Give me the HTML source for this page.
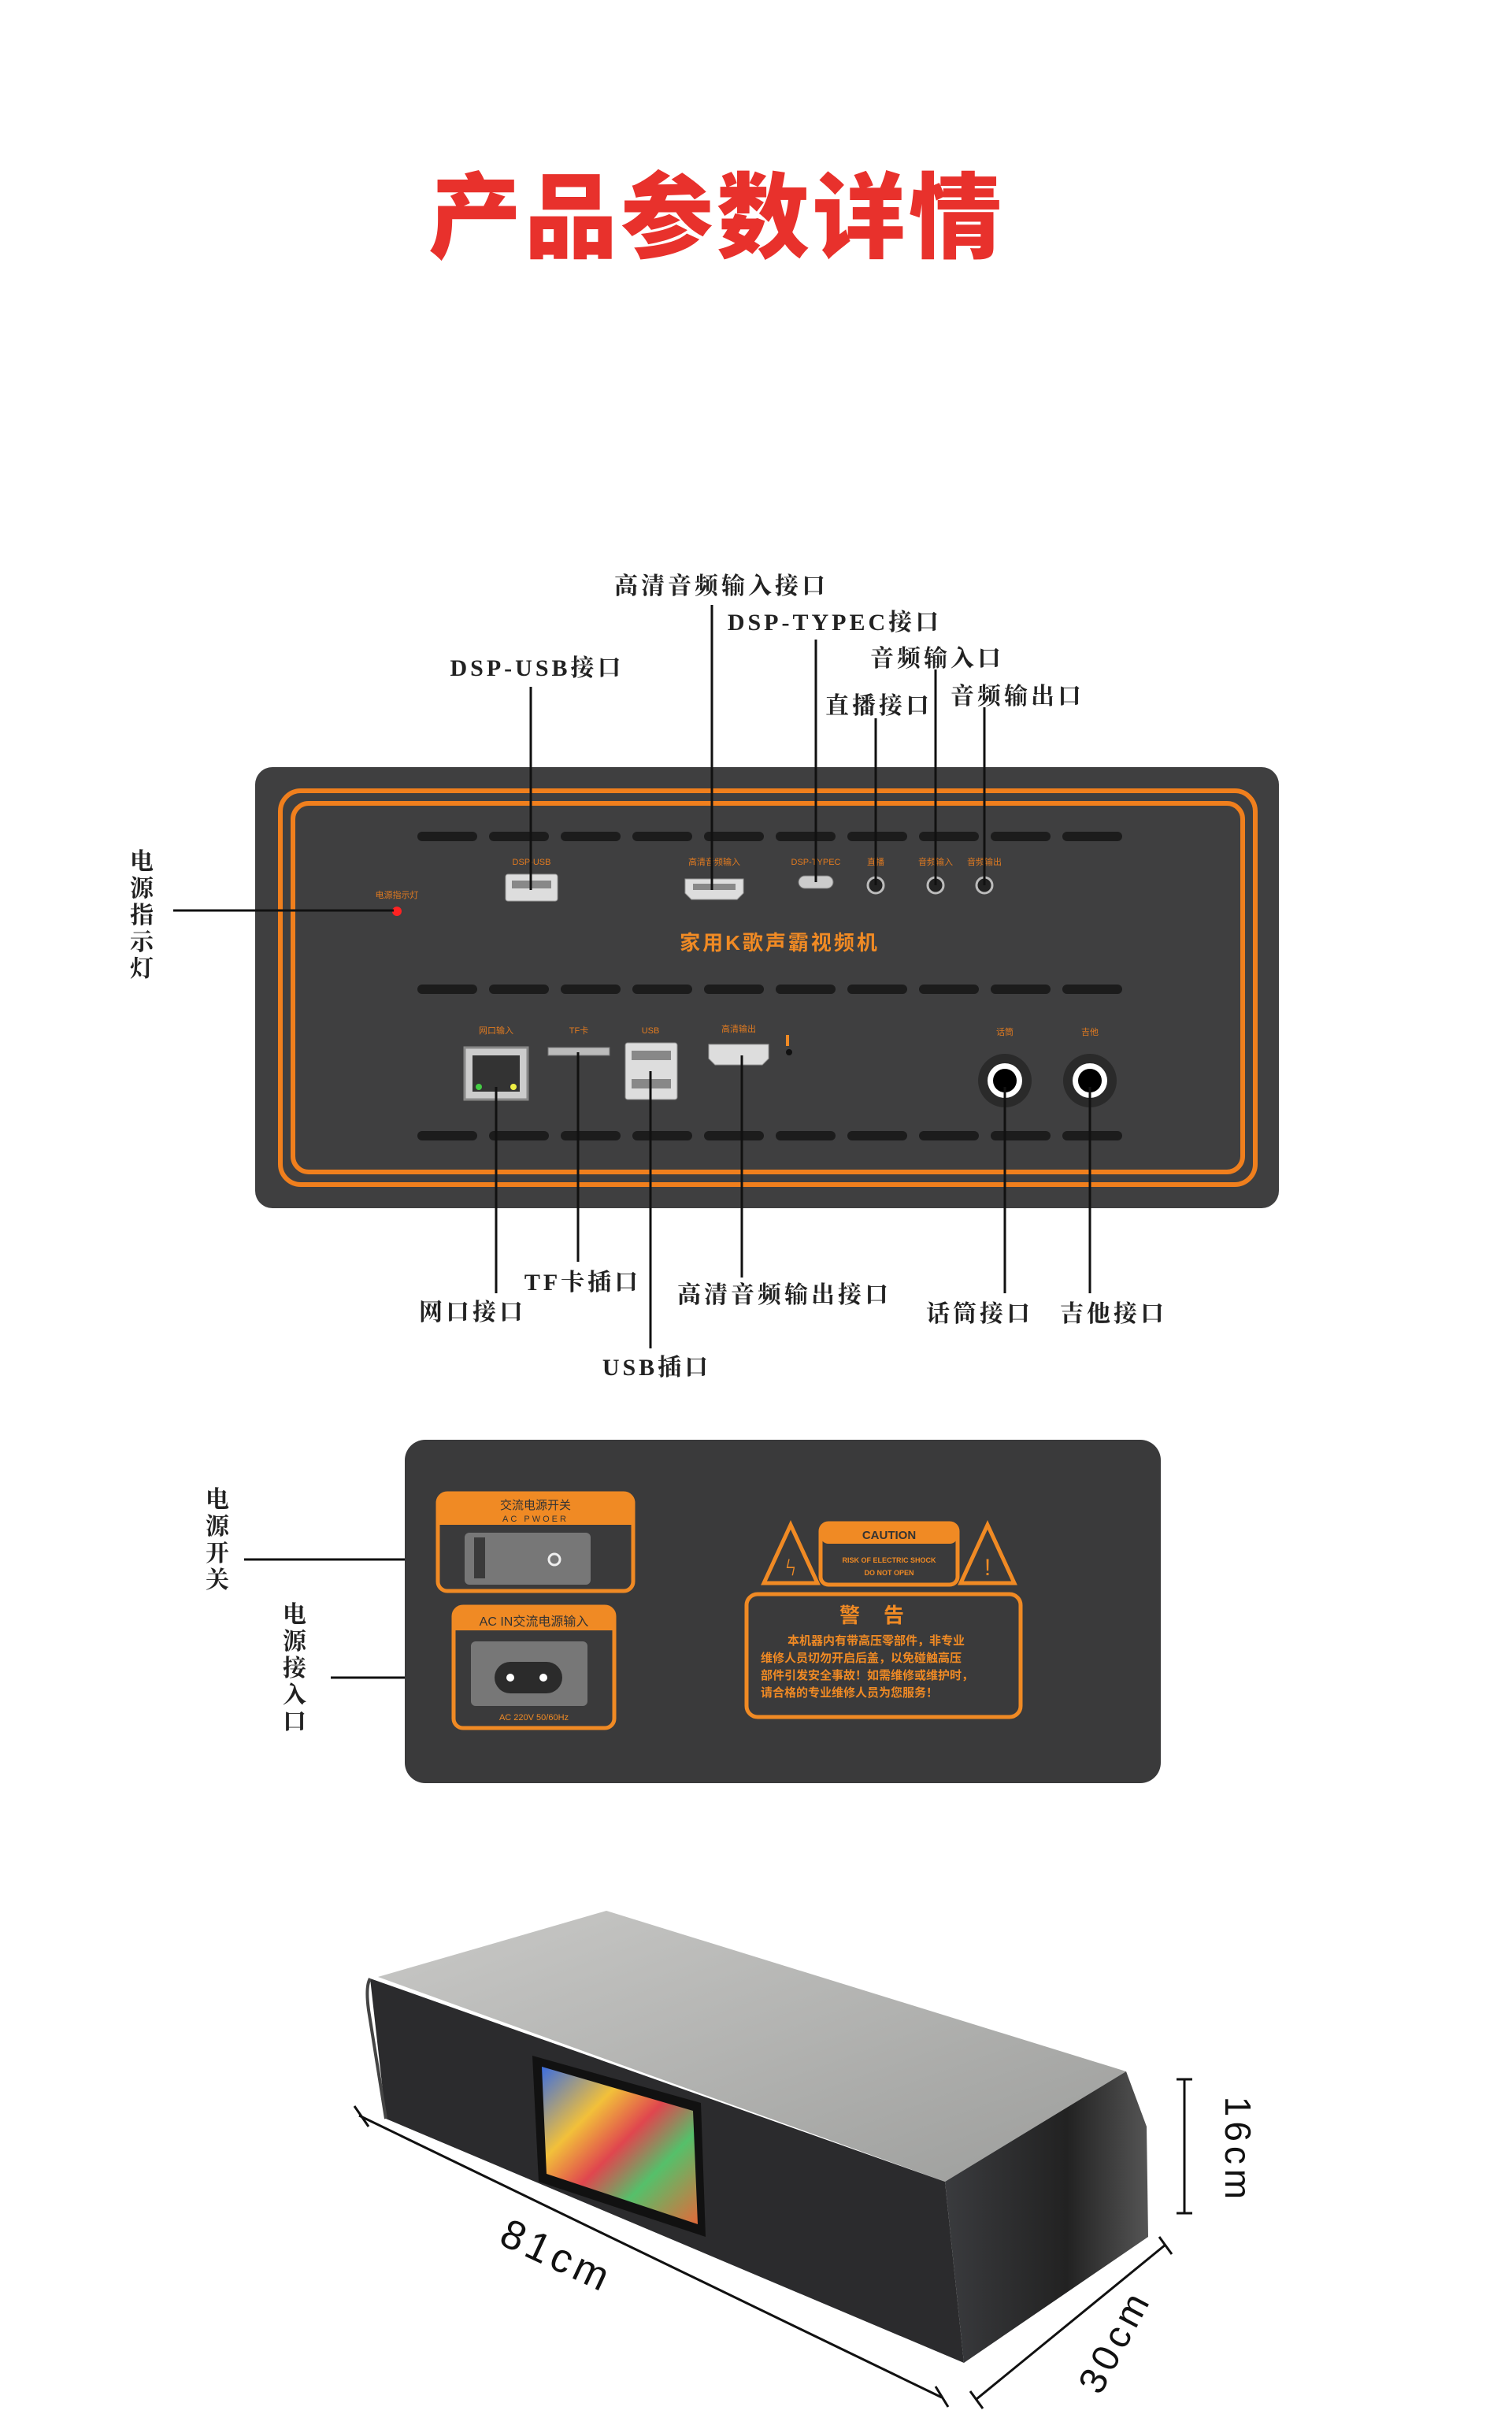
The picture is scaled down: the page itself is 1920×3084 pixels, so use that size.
<!DOCTYPE html>
<html><head><meta charset="utf-8"><style>
html,body{margin:0;padding:0;background:#fff}
svg{display:block}
.lb{font-family:"Liberation Serif","Noto Serif CJK SC",serif;font-weight:bold;font-size:30px;fill:#222;letter-spacing:4px}
.sm{font-family:"Liberation Sans","Noto Sans CJK SC",sans-serif;font-size:11px;fill:#e07a20}
.or{font-family:"Liberation Sans","Noto Sans CJK SC",sans-serif;fill:#f08a24;font-weight:bold}
</style></head><body>
<svg width="1920" height="3084" viewBox="0 0 1920 3084" xmlns="http://www.w3.org/2000/svg">
<defs>
<linearGradient id="top" x1="0" y1="0" x2="1" y2="1"><stop offset="0" stop-color="#c9c9c7"/><stop offset="1" stop-color="#9c9d9b"/></linearGradient>
<linearGradient id="side" x1="0" y1="0" x2="1" y2="0"><stop offset="0" stop-color="#3a3b3e"/><stop offset="0.6" stop-color="#222"/><stop offset="1" stop-color="#555"/></linearGradient>
<linearGradient id="scr" x1="0" y1="0" x2="1" y2="1"><stop offset="0" stop-color="#3b6de0"/><stop offset="0.3" stop-color="#f2c03a"/><stop offset="0.5" stop-color="#e0464e"/><stop offset="0.7" stop-color="#55c06a"/><stop offset="1" stop-color="#e26a3a"/></linearGradient>
</defs>
<text x="910" y="318" text-anchor="middle" font-family="'Liberation Sans','Noto Sans CJK SC',sans-serif" font-weight="900" font-size="118" fill="#e8312c" letter-spacing="4">产品参数详情</text>

<!-- Panel 1 -->
<rect x="324" y="974" width="1300" height="560" rx="22" fill="#3f3f40"/>
<rect x="356" y="1004" width="1238" height="500" rx="26" fill="none" stroke="#f07f1d" stroke-width="6"/>
<rect x="372" y="1020" width="1206" height="468" rx="20" fill="none" stroke="#f07f1d" stroke-width="6"/>
<g fill="#1c1c1c">
<g id="row"><rect x="530" y="1056" width="76" height="12" rx="6"/><rect x="621" y="1056" width="76" height="12" rx="6"/><rect x="712" y="1056" width="76" height="12" rx="6"/><rect x="803" y="1056" width="76" height="12" rx="6"/><rect x="894" y="1056" width="76" height="12" rx="6"/><rect x="985" y="1056" width="76" height="12" rx="6"/><rect x="1076" y="1056" width="76" height="12" rx="6"/><rect x="1167" y="1056" width="76" height="12" rx="6"/><rect x="1258" y="1056" width="76" height="12" rx="6"/><rect x="1349" y="1056" width="76" height="12" rx="6"/></g>
<use href="#row" y="194"/><use href="#row" y="380"/>
</g>
<text class="sm" x="675" y="1098" text-anchor="middle">DSP-USB</text>
<rect x="642" y="1110" width="66" height="34" rx="3" fill="#ddd" stroke="#999"/><rect x="650" y="1118" width="50" height="10" fill="#888"/>
<text class="sm" x="504" y="1140" text-anchor="middle">电源指示灯</text>
<circle cx="504" cy="1157" r="6" fill="#f22"/>
<text class="sm" x="907" y="1098" text-anchor="middle">高清音频输入</text>
<path d="M870 1116h74v18l-8 8h-58l-8-8z" fill="#ddd" stroke="#999"/><rect x="880" y="1122" width="54" height="8" fill="#888"/>
<text class="sm" x="1036" y="1098" text-anchor="middle">DSP-TYPEC</text>
<rect x="1014" y="1112" width="44" height="16" rx="8" fill="#ccc" stroke="#777"/>
<text class="sm" x="1112" y="1098" text-anchor="middle">直播</text>
<text class="sm" x="1188" y="1098" text-anchor="middle">音频输入</text>
<text class="sm" x="1250" y="1098" text-anchor="middle">音频输出</text>
<g fill="#222" stroke="#bbb" stroke-width="3"><circle cx="1112" cy="1124" r="10"/><circle cx="1188" cy="1124" r="10"/><circle cx="1250" cy="1124" r="10"/></g>
<text class="or" x="990" y="1206" text-anchor="middle" font-size="26" font-weight="normal" letter-spacing="3">家用K歌声霸视频机</text>
<text class="sm" x="630" y="1312" text-anchor="middle">网口输入</text>
<rect x="590" y="1330" width="80" height="66" fill="#ccc" stroke="#888" stroke-width="3"/><rect x="600" y="1340" width="60" height="46" fill="#333"/><circle cx="608" cy="1380" r="4" fill="#4c4"/><circle cx="652" cy="1380" r="4" fill="#ee4"/>
<text class="sm" x="735" y="1312" text-anchor="middle">TF卡</text>
<rect x="696" y="1330" width="78" height="10" fill="#bbb" stroke="#777"/>
<text class="sm" x="826" y="1312" text-anchor="middle">USB</text>
<rect x="794" y="1324" width="66" height="72" rx="3" fill="#ddd" stroke="#888"/><rect x="802" y="1334" width="50" height="12" fill="#888"/><rect x="802" y="1370" width="50" height="12" fill="#888"/>
<text class="sm" x="938" y="1310" text-anchor="middle">高清输出</text>
<path d="M900 1326h76v18l-8 8h-60l-8-8z" fill="#ddd" stroke="#999"/>
<rect x="998" y="1314" width="4" height="14" fill="#f08a24"/><circle cx="1002" cy="1336" r="4" fill="#111"/>
<text class="sm" x="1276" y="1314" text-anchor="middle">话筒</text>
<text class="sm" x="1384" y="1314" text-anchor="middle">吉他</text>
<g><circle cx="1276" cy="1372" r="34" fill="#2a2a2a"/><circle cx="1276" cy="1372" r="22" fill="#fff"/><circle cx="1276" cy="1372" r="15" fill="#000"/>
<circle cx="1384" cy="1372" r="34" fill="#2a2a2a"/><circle cx="1384" cy="1372" r="22" fill="#fff"/><circle cx="1384" cy="1372" r="15" fill="#000"/></g>

<!-- leader lines -->
<g stroke="#111" stroke-width="3" fill="none">
<line x1="674" y1="872" x2="674" y2="1130"/><line x1="904" y1="768" x2="904" y2="1130"/><line x1="1036" y1="812" x2="1036" y2="1120"/>
<line x1="1112" y1="912" x2="1112" y2="1124"/><line x1="1188" y1="850" x2="1188" y2="1124"/><line x1="1250" y1="898" x2="1250" y2="1124"/>
<line x1="220" y1="1156" x2="500" y2="1156"/>
<line x1="630" y1="1380" x2="630" y2="1642"/><line x1="734" y1="1336" x2="734" y2="1602"/><line x1="826" y1="1360" x2="826" y2="1712"/>
<line x1="942" y1="1340" x2="942" y2="1622"/><line x1="1276" y1="1380" x2="1276" y2="1642"/><line x1="1384" y1="1380" x2="1384" y2="1642"/>
<line x1="310" y1="1980" x2="660" y2="1980"/><line x1="420" y1="2130" x2="640" y2="2130"/>
</g>
<text class="lb" x="916" y="754" text-anchor="middle">高清音频输入接口</text>
<text class="lb" x="1060" y="800" text-anchor="middle">DSP-TYPEC接口</text>
<text class="lb" x="682" y="858" text-anchor="middle">DSP-USB接口</text>
<text class="lb" x="1190" y="846" text-anchor="middle">音频输入口</text>
<text class="lb" x="1116" y="906" text-anchor="middle">直播接口</text>
<text class="lb" x="1292" y="894" text-anchor="middle">音频输出口</text>
<text class="lb" x="182" y="1104" text-anchor="middle">电</text><text class="lb" x="182" y="1138" text-anchor="middle">源</text><text class="lb" x="182" y="1172" text-anchor="middle">指</text><text class="lb" x="182" y="1206" text-anchor="middle">示</text><text class="lb" x="182" y="1240" text-anchor="middle">灯</text>
<text class="lb" x="600" y="1676" text-anchor="middle">网口接口</text>
<text class="lb" x="740" y="1638" text-anchor="middle">TF卡插口</text>
<text class="lb" x="834" y="1746" text-anchor="middle">USB插口</text>
<text class="lb" x="996" y="1654" text-anchor="middle">高清音频输出接口</text>
<text class="lb" x="1244" y="1678" text-anchor="middle">话筒接口</text>
<text class="lb" x="1414" y="1678" text-anchor="middle">吉他接口</text>
<text class="lb" x="278" y="1914" text-anchor="middle">电</text><text class="lb" x="278" y="1948" text-anchor="middle">源</text><text class="lb" x="278" y="1982" text-anchor="middle">开</text><text class="lb" x="278" y="2016" text-anchor="middle">关</text>
<text class="lb" x="376" y="2060" text-anchor="middle">电</text><text class="lb" x="376" y="2094" text-anchor="middle">源</text><text class="lb" x="376" y="2128" text-anchor="middle">接</text><text class="lb" x="376" y="2162" text-anchor="middle">入</text><text class="lb" x="376" y="2196" text-anchor="middle">口</text>

<!-- Panel 2 -->
<rect x="514" y="1828" width="960" height="436" rx="26" fill="#3a3a3b"/>
<rect x="556" y="1896" width="248" height="124" rx="12" fill="none" stroke="#f08a24" stroke-width="5"/>
<path d="M556 1908a12 12 0 0 1 12-12h224a12 12 0 0 1 12 12v28h-248z" fill="#f08a24"/>
<text x="680" y="1916" text-anchor="middle" font-size="15" fill="#333" font-family="'Noto Sans CJK SC',sans-serif">交流电源开关</text>
<text x="680" y="1932" text-anchor="middle" font-size="11" fill="#333" font-family="'Liberation Sans',sans-serif" letter-spacing="3">AC PWOER</text>
<rect x="590" y="1946" width="160" height="66" rx="6" fill="#777"/><rect x="602" y="1952" width="14" height="52" fill="#3a3a3a"/><circle cx="704" cy="1980" r="7" fill="none" stroke="#eee" stroke-width="3"/>
<rect x="576" y="2040" width="204" height="154" rx="12" fill="none" stroke="#f08a24" stroke-width="5"/>
<path d="M576 2052a12 12 0 0 1 12-12h180a12 12 0 0 1 12 12v18h-204z" fill="#f08a24"/>
<text x="678" y="2064" text-anchor="middle" font-size="16" fill="#333" font-family="'Liberation Sans','Noto Sans CJK SC',sans-serif">AC IN交流电源输入</text>
<rect x="598" y="2084" width="148" height="82" rx="6" fill="#777"/><rect x="628" y="2110" width="86" height="40" rx="20" fill="#2b2b2b"/><circle cx="648" cy="2130" r="5" fill="#fff"/><circle cx="690" cy="2130" r="5" fill="#fff"/>
<text x="678" y="2184" text-anchor="middle" font-size="11" fill="#f08a24" font-family="'Liberation Sans',sans-serif">AC 220V 50/60Hz</text>
<path d="M1004 1936l-34 74h68z" fill="none" stroke="#f08a24" stroke-width="5"/><text x="1004" y="2000" text-anchor="middle" font-size="30" fill="#f08a24">ϟ</text>
<path d="M1254 1936l-34 74h68z" fill="none" stroke="#f08a24" stroke-width="5"/><text x="1254" y="2000" text-anchor="middle" font-size="30" fill="#f08a24" font-family="'Liberation Sans',sans-serif">!</text>
<rect x="1042" y="1934" width="174" height="78" rx="10" fill="none" stroke="#f08a24" stroke-width="5"/>
<rect x="1042" y="1934" width="174" height="26" rx="10" fill="#f08a24"/>
<text x="1129" y="1954" text-anchor="middle" font-size="15" font-weight="bold" fill="#333" font-family="'Liberation Sans',sans-serif">CAUTION</text>
<text x="1129" y="1984" text-anchor="middle" font-size="9" font-weight="bold" fill="#f08a24" font-family="'Liberation Sans',sans-serif">RISK OF ELECTRIC SHOCK</text>
<text x="1129" y="2000" text-anchor="middle" font-size="9" font-weight="bold" fill="#f08a24" font-family="'Liberation Sans',sans-serif">DO NOT OPEN</text>
<rect x="948" y="2024" width="348" height="156" rx="14" fill="none" stroke="#f08a24" stroke-width="5"/>
<text class="or" x="1122" y="2060" text-anchor="middle" font-size="26" letter-spacing="30">警告</text>
<g class="or" font-size="15"><text x="1000" y="2088">本机器内有带高压零部件，非专业</text><text x="966" y="2110">维修人员切勿开启后盖，以免碰触高压</text><text x="966" y="2132">部件引发安全事故！如需维修或维护时，</text><text x="966" y="2154">请合格的专业维修人员为您服务！</text></g>

<!-- Product -->
<polygon points="480,2510 770,2426 1430,2630 1200,2770" fill="url(#top)"/>
<polygon points="470,2512 1200,2770 1224,3000 490,2690" fill="#2b2b2d"/>
<path d="M470 2512q-6 10-2 40l22 138" fill="none" stroke="#444" stroke-width="4"/>
<polygon points="1200,2770 1430,2630 1456,2700 1458,2840 1224,3000" fill="url(#side)"/>
<polygon points="676,2610 890,2670 896,2840 684,2770" fill="#111"/>
<polygon points="688,2624 880,2680 886,2824 694,2760" fill="url(#scr)"/>
<g stroke="#111" stroke-width="3" fill="none">
<line x1="456" y1="2686" x2="1196" y2="3044"/><line x1="450" y1="2674" x2="468" y2="2700"/><line x1="1188" y1="3030" x2="1204" y2="3056"/>
<line x1="1240" y1="3046" x2="1480" y2="2850"/><line x1="1232" y1="3036" x2="1248" y2="3058"/><line x1="1472" y1="2840" x2="1488" y2="2862"/>
<line x1="1504" y1="2640" x2="1504" y2="2810"/><line x1="1494" y1="2640" x2="1514" y2="2640"/><line x1="1494" y1="2810" x2="1514" y2="2810"/>
</g>
<text x="700" y="2880" text-anchor="middle" font-family="'Liberation Sans',sans-serif" font-size="52" fill="#111" letter-spacing="6" transform="rotate(25 700 2880)">81cm</text>
<text x="1430" y="2980" text-anchor="middle" font-family="'Liberation Sans',sans-serif" font-size="48" fill="#111" letter-spacing="6" transform="rotate(-62 1430 2980)">30cm</text>
<text x="1556" y="2730" text-anchor="middle" font-family="'Liberation Sans',sans-serif" font-size="46" fill="#111" letter-spacing="6" transform="rotate(90 1556 2730)">16cm</text>
</svg>
</body></html>
